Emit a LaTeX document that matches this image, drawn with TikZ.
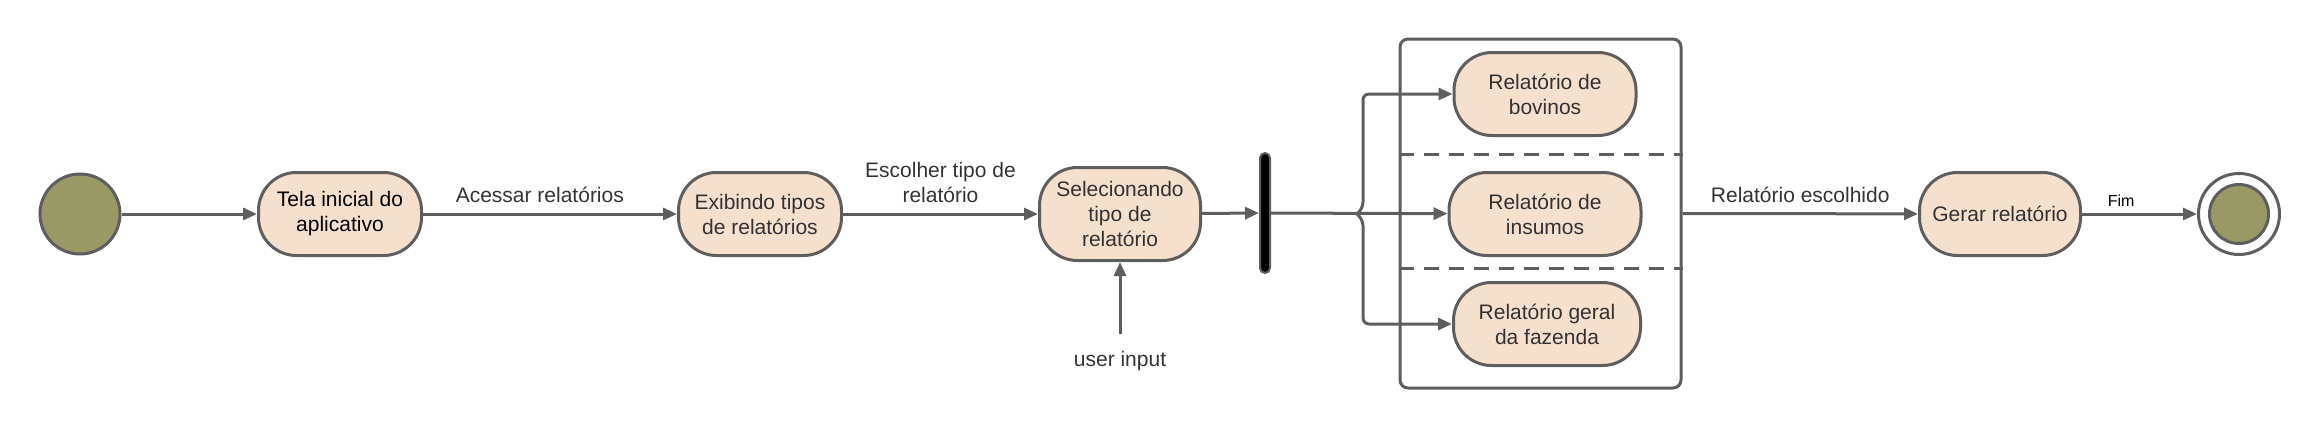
\documentclass[tikz,border=0pt]{standalone}
\usepackage{fontspec}
\setmainfont{Liberation Sans}
\usetikzlibrary{arrows.meta,positioning}
\definecolor{linegray}{HTML}{5E5E5E}
\definecolor{statefill}{HTML}{F5DFCD}
\definecolor{olivefill}{HTML}{999966}
\definecolor{textgray}{HTML}{333333}
\begin{document}
\begin{tikzpicture}[x=0.5pt, y=-0.5pt,
    estado/.style={draw=linegray, fill=statefill, line width=1.5pt, rounded corners=19pt,
      minimum width=81.5pt, minimum height=41.5pt, inner sep=2pt, align=center,
      text=textgray, font=\fontsize{10.5}{12.5}\selectfont},
    fluxo/.style={draw=linegray, line width=1.5pt, -{Triangle[length=7pt, width=6pt]}},
    rotulo/.style={text=textgray, align=center, font=\fontsize{10.5}{12.5}\selectfont},
    particao/.style={draw=linegray, line width=1.5pt, dash pattern=on 7.5pt off 5pt}]
    \useasboundingbox (0,0) rectangle (2320,435);

    % estados
    \node[circle, draw=linegray, fill=olivefill, line width=1.5pt, minimum size=40pt, inner sep=0pt] (inicio) at (80,214) {};
    \node[estado, text=black] (tela) at (340,214) {Tela inicial do\\aplicativo};
    \node[estado] (exibe) at (760,214) {Exibindo tipos\\de relatórios};
    \node[estado, minimum width=80.5pt, minimum height=46.5pt] (sel) at (1120,214) {Selecionando\\tipo de\\relatório};
    \node[rotulo] (input) at (1120,361) {user input};
    \node[draw=linegray, fill=black, line width=1pt, rounded corners=2.5pt, minimum width=5pt, minimum height=60pt, inner sep=0pt] (fork) at (1265,213) {};

    % grupo de relatorios
    \node[draw=linegray, line width=1.5pt, rounded corners=4pt, minimum width=140.5pt, minimum height=174.5pt] (grupo) at (1540.5,213.5) {};
    \draw[particao] (grupo.west |- 0,154) -- (grupo.east |- 0,154);
    \draw[particao] (grupo.west |- 0,268) -- (grupo.east |- 0,268);
    \node[estado, minimum width=91pt] (bov) at (1545,94) {Relatório de\\bovinos};
    \node[estado, minimum width=96pt] (ins) at (1545,214) {Relatório de\\insumos};
    \node[estado, minimum width=93.5pt] (ger) at (1547,324) {Relatório geral\\da fazenda};

    \node[estado, minimum width=80.5pt] (gerar) at (2000,214) {Gerar relatório};
    \node[circle, draw=linegray, fill=white, line width=1.5pt, minimum size=40.5pt, inner sep=0pt] (fim) at (2239,214) {};
    \node[circle, draw=linegray, fill=olivefill, line width=1.5pt, minimum size=29.5pt, inner sep=0pt] (fimin) at (2239,214) {};

    % transicoes
    \draw[fluxo] (inicio) -- (tela);
    \draw[fluxo] (tela) -- node[rotulo, pos=.46, yshift=9.5pt] {Acessar relatórios} (exibe);
    \draw[fluxo] (exibe) -- node[rotulo, yshift=16pt] {Escolher tipo de\\relatório} (sel);
    \draw[fluxo, shorten <=5pt] (input) -- (sel);
    \draw[fluxo] (sel) -- (fork);
    \coordinate (split) at (1357,214);
    \draw[fluxo] (fork) -- (ins);
    \draw[fluxo, rounded corners=3pt] (split) -- (1363,208) |- (bov.west);
    \draw[fluxo, rounded corners=3pt] (split) -- (1363,220) |- (ger.west);
    \draw[fluxo] (grupo.east) -- node[rotulo, yshift=9.5pt] {Relatório escolhido} (gerar);
    \draw[fluxo] (gerar) -- node[rotulo, pos=.34, yshift=6.5pt, font=\fontsize{8}{10}\selectfont, text=black] {Fim} (fim);
  \end{tikzpicture}
\end{document}
